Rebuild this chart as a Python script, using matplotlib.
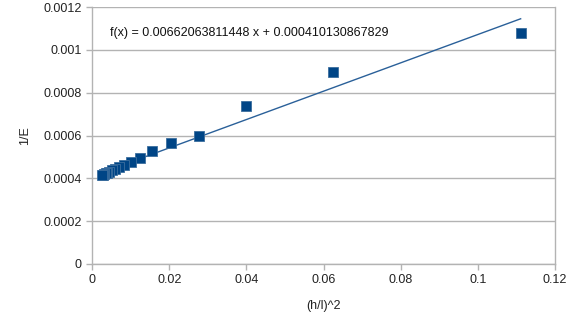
import matplotlib
matplotlib.use("Agg")
import matplotlib.pyplot as plt
from matplotlib.ticker import FuncFormatter, MultipleLocator

# (h/l)^2 values and measured 1/E
x_vals = [0.1111, 0.0625, 0.04, 0.0278, 0.0204, 0.0156, 0.0123, 0.01,
          0.00826, 0.00694, 0.00592, 0.0051, 0.00444, 0.00391, 0.00346,
          0.00309, 0.00277, 0.0025]
y_vals = [0.00108, 0.000897, 0.000738, 0.000599, 0.000563, 0.000529,
          0.000493, 0.000478, 0.000463, 0.000452, 0.000443, 0.000437,
          0.000431, 0.000427, 0.000423, 0.00042, 0.000418, 0.000416]

slope = 0.00662063811448
intercept = 0.000410130867829
fit_label = "f(x) = 0.00662063811448 x + 0.000410130867829"

plt.rcParams["font.family"] = ["Liberation Sans", "DejaVu Sans"]

fig = plt.figure(figsize=(5.76, 3.25), dpi=100)
ax = fig.add_axes([0.16, 0.1877, 0.8035, 0.7903])

grid_color = "#b3b3b3"
ax.yaxis.grid(True, color=grid_color, linewidth=1)
ax.set_axisbelow(True)

x_line = [min(x_vals), max(x_vals)]
y_line = [slope * v + intercept for v in x_line]
ax.plot(x_line, y_line, color="#2a6099", linewidth=1, zorder=2)

ax.plot(x_vals, y_vals, linestyle="none", marker="s", markersize=7.5,
        markerfacecolor="#004586", markeredgecolor="#3c6e9e",
        markeredgewidth=0.6, zorder=3)

ax.set_xlim(0, 0.12)
ax.set_ylim(0, 0.0012)
ax.xaxis.set_major_locator(MultipleLocator(0.02))
ax.yaxis.set_major_locator(MultipleLocator(0.0002))
fmt = FuncFormatter(lambda v, pos: f"{round(v, 6):g}")
ax.xaxis.set_major_formatter(fmt)
ax.yaxis.set_major_formatter(fmt)

for spine in ax.spines.values():
    spine.set_color(grid_color)
    spine.set_linewidth(1)
ax.spines["top"].set_visible(False)
ax.tick_params(axis="both", color=grid_color, length=4, width=1,
               labelsize=9, labelcolor="#222222")

ax.set_xlabel("(h/l)^2", fontsize=9, color="#222222", labelpad=10)
ax.set_ylabel("1/E", fontsize=9, color="#222222", labelpad=9)

ax.text(0.0047, 0.00108, fit_label, fontsize=9, color="#111111",
        va="center", ha="left")

fig.savefig("out.png", dpi=100)
